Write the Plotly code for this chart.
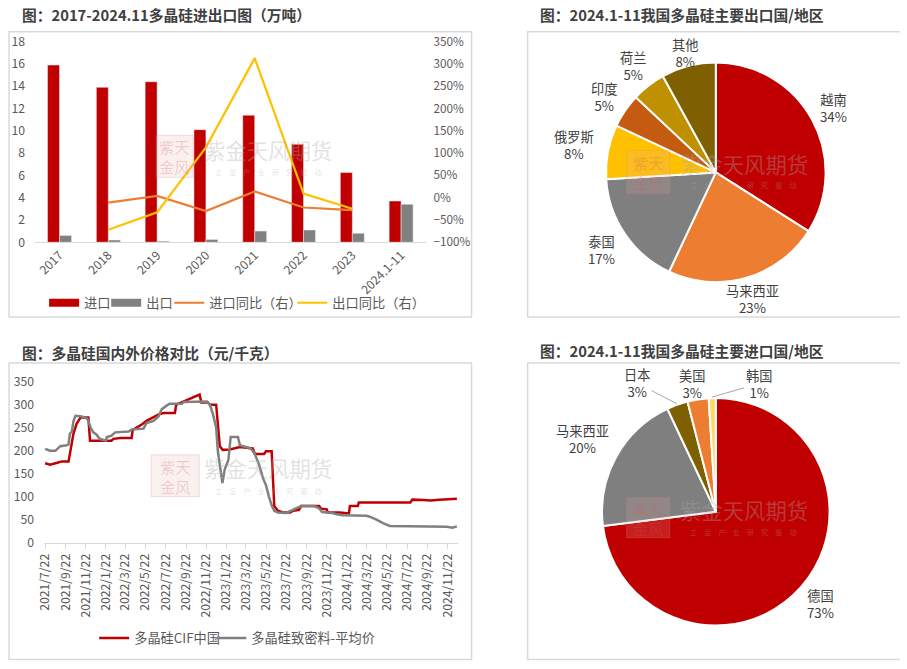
import math
import plotly.graph_objects as go

# The photographed page shows a ~916x685 css-px viewport (body margin 8px) squeezed into 907x669.
# Design coordinates below are target pixels in the final 907x669 picture.
OFF = 8
SX, SY = 0.989, 0.975
AX, AY = 1.0, 1.5
W, H = 900, 669
FS = 1 / 0.982  # font scale compensation


def fx(t):
    return (t - AX) / SX - OFF


def fy(t):
    return (t - AY) / SY - OFF


def px(t):
    return fx(t) / W


def py(t):
    return 1 - fy(t) / H


# ---------------- data ----------------
years = ["2017", "2018", "2019", "2020", "2021", "2022", "2023", "2024.1-11"]
imports = [15.9, 13.9, 14.4, 10.1, 11.4, 8.8, 6.25, 3.7]
exports = [0.6, 0.2, 0.1, 0.25, 1.0, 1.1, 0.8, 3.4]
import_yoy = [None, -11, 4, -30, 14, -22, -28, None]
export_yoy = [None, -72, -33, 113, 313, 9, -25, None]

cif_dates = ["2021-07-22", "2021-08-06", "2021-08-28", "2021-09-11", "2021-10-01", "2021-10-07",
             "2021-10-16", "2021-10-25", "2021-11-03", "2021-11-06", "2021-11-30", "2021-12-05",
             "2022-02-08", "2022-02-14", "2022-03-07", "2022-04-10", "2022-04-13", "2022-05-01",
             "2022-05-13", "2022-05-25", "2022-06-15", "2022-07-04", "2022-07-16", "2022-08-19",
             "2022-08-23", "2022-09-09", "2022-09-24", "2022-11-02", "2022-11-07", "2022-11-27",
             "2022-12-03", "2022-12-22", "2022-12-27", "2023-01-02", "2023-01-11", "2023-02-01",
             "2023-03-04", "2023-04-12", "2023-04-18", "2023-05-16", "2023-05-22", "2023-06-08",
             "2023-06-16", "2023-06-27", "2023-07-12", "2023-08-03", "2023-08-12", "2023-08-30",
             "2023-09-05", "2023-10-30", "2023-11-05", "2023-11-22", "2023-11-25", "2024-01-01",
             "2024-01-28", "2024-01-31", "2024-02-24", "2024-02-27", "2024-08-01", "2024-08-07",
             "2024-09-10", "2024-10-01", "2024-10-28", "2024-12-20"]
cif_values = [173, 170, 174, 177, 177, 205,
              238, 258, 268, 272, 272, 222,
              222, 226, 228, 228, 245, 252,
              258, 265, 272, 280, 282, 282,
              300, 306, 310, 322, 305, 305,
              300, 300, 255, 210, 202, 203,
              208, 205, 193, 193, 199, 199,
              80, 70, 66, 66, 70, 72,
              80, 80, 74, 73, 66, 66,
              64, 80, 80, 88, 88, 94,
              93, 92, 94, 96]

dense_dates = ["2021-07-22", "2021-08-06", "2021-08-22", "2021-08-28", "2021-09-06", "2021-09-26",
               "2021-10-01", "2021-10-05", "2021-10-11", "2021-10-16", "2021-10-22", "2021-11-06",
               "2021-11-22", "2021-11-28", "2021-12-07", "2021-12-15", "2021-12-25", "2022-01-03",
               "2022-01-22", "2022-01-25", "2022-02-08", "2022-02-19", "2022-04-01", "2022-04-10",
               "2022-05-16", "2022-05-25", "2022-06-15", "2022-07-01", "2022-07-10", "2022-07-25",
               "2022-08-03", "2022-09-09", "2022-09-15", "2022-11-24", "2022-12-03", "2022-12-12",
               "2022-12-22", "2022-12-27", "2023-01-02", "2023-01-10", "2023-01-17", "2023-01-28",
               "2023-02-04", "2023-02-26", "2023-03-04", "2023-03-22", "2023-04-06", "2023-04-17",
               "2023-05-01", "2023-05-13", "2023-05-22", "2023-05-31", "2023-06-09", "2023-06-16",
               "2023-06-27", "2023-07-22", "2023-07-31", "2023-08-15", "2023-08-30", "2023-09-05",
               "2023-10-15", "2023-10-30", "2023-11-08", "2023-12-09", "2023-12-22", "2024-01-09",
               "2024-03-22", "2024-03-31", "2024-04-22", "2024-05-10", "2024-05-31", "2024-08-01",
               "2024-10-01", "2024-11-19", "2024-12-07", "2024-12-20"]
dense_values = [204, 200, 200, 205, 210, 212,
                214, 237, 242, 265, 276, 275,
                272, 268, 250, 240, 235, 226,
                222, 230, 233, 240, 242, 246,
                248, 260, 265, 275, 290, 298,
                302, 302, 306, 307, 300, 280,
                250, 200, 165, 130, 160, 180,
                230, 230, 212, 208, 205, 195,
                170, 140, 125, 100, 80, 70,
                66, 65, 68, 73, 78, 80,
                80, 75, 67, 65, 62, 60,
                59, 57, 50, 43, 37, 36,
                36.5, 35, 33, 36]

tick_dates = ["2021-07-22", "2021-09-22", "2021-11-22", "2022-01-22", "2022-03-22", "2022-05-22",
              "2022-07-22", "2022-09-22", "2022-11-22", "2023-01-22", "2023-03-22", "2023-05-22",
              "2023-07-22", "2023-09-22", "2023-11-22", "2024-01-22", "2024-03-22", "2024-05-22",
              "2024-07-22", "2024-09-22", "2024-11-22"]
tick_labels = ["2021/7/22", "2021/9/22", "2021/11/22", "2022/1/22", "2022/3/22", "2022/5/22",
               "2022/7/22", "2022/9/22", "2022/11/22", "2023/1/22", "2023/3/22", "2023/5/22",
               "2023/7/22", "2023/9/22", "2023/11/22", "2024/1/22", "2024/3/22", "2024/5/22",
               "2024/7/22", "2024/9/22", "2024/11/22"]

exp_countries = ["越南", "马来西亚", "泰国", "俄罗斯", "印度", "荷兰", "其他"]
exp_share = [34, 23, 17, 8, 5, 5, 8]
imp_countries = ["德国", "马来西亚", "日本", "美国", "韩国"]
imp_share = [73, 20, 3, 3, 1]

# ---------------- style ----------------
FONT = "Noto Sans CJK SC, Noto Sans, sans-serif"
RED = "#C00000"
GRAY = "#808080"
ORANGE = "#ED7D31"
YELLOW = "#FFC000"
TICK = dict(size=12 * FS, color="#595959", family=FONT)
exp_colors = [RED, ORANGE, "#7F7F7F", "#FFC000", "#C55A11", "#BF9000", "#7F6000"]
imp_colors = [RED, "#7F7F7F", "#7F6000", ORANGE, "#FFD966"]

fig = go.Figure()

# ---- top-left: bars + yoy lines ----
fig.add_trace(go.Bar(x=years, y=imports, marker_color=RED, name="进口", showlegend=False,
                     xaxis="x", yaxis="y", hoverinfo="skip"))
fig.add_trace(go.Bar(x=years, y=exports, marker_color=GRAY, name="出口", showlegend=False,
                     xaxis="x", yaxis="y", hoverinfo="skip"))
fig.add_trace(go.Scatter(x=[None], y=[None], mode="lines", line=dict(color=RED, width=8),
                         name="进口", xaxis="x", yaxis="y", legend="legend"))
fig.add_trace(go.Scatter(x=[None], y=[None], mode="lines", line=dict(color=GRAY, width=8),
                         name="出口", xaxis="x", yaxis="y", legend="legend3"))
fig.add_trace(go.Scatter(x=years, y=import_yoy, mode="lines", line=dict(color=ORANGE, width=2.2),
                         name="进口同比（右）", xaxis="x", yaxis="y2", legend="legend4"))
fig.add_trace(go.Scatter(x=years, y=export_yoy, mode="lines", line=dict(color=YELLOW, width=2.2),
                         name="出口同比（右）", xaxis="x", yaxis="y2", legend="legend5"))

# ---- bottom-left: price lines ----
fig.add_trace(go.Scatter(x=cif_dates, y=cif_values, mode="lines", line=dict(color=RED, width=2.5),
                         name="多晶硅CIF中国", xaxis="x3", yaxis="y3", legend="legend2"))
fig.add_trace(go.Scatter(x=dense_dates, y=dense_values, mode="lines", line=dict(color=GRAY, width=2.5),
                         name="多晶硅致密料-平均价", xaxis="x3", yaxis="y3", legend="legend6"))

# ---- pies ----
PIE1 = dict(cx=715, cy=172, r=110)
PIE2 = dict(cx=715, cy=512, r=114)
for p, vals, labs, cols in [(PIE1, exp_share, exp_countries, exp_colors),
                            (PIE2, imp_share, imp_countries, imp_colors)]:
    fig.add_trace(go.Pie(values=vals, labels=labs, sort=False, direction="clockwise", rotation=0,
                         marker=dict(colors=cols, line=dict(color="white", width=2)),
                         textinfo="none", showlegend=False, hoverinfo="label+value",
                         domain=dict(x=[px(p["cx"] - p["r"]), px(p["cx"] + p["r"])],
                                     y=[py(p["cy"] + p["r"]), py(p["cy"] - p["r"])])))

annotations = []
shapes = []

# pie labels
label_dist1 = [134, 132, 138, 144, 135, 135, 124]
label_dist2 = [140, 152, None, None, None]
# small-slice labels of import pie: label centre offsets (px) from slice edge
small_offsets = {2: (-39, -20, True), 3: (-6, -14, False), 4: (46, -13, True)}


def mid_angles(vals):
    tot = sum(vals)
    out, acc = [], 0
    for v in vals:
        out.append(2 * math.pi * (acc + v / 2) / tot)
        acc += v
    return out


LBL = dict(size=13 * FS, color="#404040", family=FONT)
for i, (lab, v, a) in enumerate(zip(exp_countries, exp_share, mid_angles(exp_share))):
    d = label_dist1[i]
    x = PIE1["cx"] + d * math.sin(a)
    y = PIE1["cy"] - d * math.cos(a)
    annotations.append(dict(x=px(x), y=py(y), xref="paper", yref="paper", showarrow=False,
                            xanchor="center", yanchor="middle",
                            text=f"{lab}<br>{v}%", font=LBL, align="center"))
for i, (lab, v, a) in enumerate(zip(imp_countries, imp_share, mid_angles(imp_share))):
    if label_dist2[i] is not None:
        d = label_dist2[i]
        x = PIE2["cx"] + d * math.sin(a)
        y = PIE2["cy"] - d * math.cos(a)
        annotations.append(dict(x=px(x), y=py(y), xref="paper", yref="paper", showarrow=False,
                                xanchor="center", yanchor="middle",
                                text=f"{lab}<br>{v}%", font=LBL, align="center"))
    else:
        ex = PIE2["cx"] + (PIE2["r"] + 1) * math.sin(a)
        ey = PIE2["cy"] - (PIE2["r"] + 1) * math.cos(a)
        ox, oy, arrow = small_offsets[i]
        if arrow:
            annotations.append(dict(x=px(ex), y=py(ey), xref="paper", yref="paper", showarrow=True,
                                    ax=ox / SX, ay=oy / SY, arrowhead=0, arrowwidth=1,
                                    arrowcolor="#A6A6A6", standoff=0,
                                    text=f"{lab}<br>{v}%", font=LBL, align="center"))
        else:
            annotations.append(dict(x=px(ex + ox), y=py(ey + oy), xref="paper", yref="paper",
                                    xanchor="center", yanchor="middle",
                                    showarrow=False, text=f"{lab}<br>{v}%", font=LBL, align="center"))

# titles
TITLE = dict(size=14.5 * FS, color="#404040", family=FONT)
for x, y, t in [(20, 14, "<b>图：2017-2024.11多晶硅进出口图（万吨）</b>"),
                (537, 14, "<b>图：2024.1-11我国多晶硅主要出口国/地区</b>"),
                (20, 352, "<b>图：多晶硅国内外价格对比（元/千克）</b>"),
                (537, 350, "<b>图：2024.1-11我国多晶硅主要进口国/地区</b>")]:
    annotations.append(dict(x=px(x), y=py(y), xref="paper", yref="paper", xanchor="left",
                            yanchor="middle", showarrow=False, text=t, font=TITLE))

# panel borders
for x0, y0, x1, y1 in [(9, 31, 471, 317), (527, 31, 903, 317), (9, 363, 471, 660), (527, 363, 903, 660)]:
    shapes.append(dict(type="rect", xref="paper", yref="paper", x0=px(x0), x1=px(x1),
                       y0=py(y1), y1=py(y0), line=dict(color="#D9D9D9", width=1.5), layer="below"))

# watermarks
for lx0, ly0, lx1, ly1, tx, ty, sy in [(156, 135, 193, 177, 268, 149, 172),
                                       (626, 150, 669, 193, 743, 163, 185),
                                       (151, 455, 199, 497, 268, 468, 491),
                                       (626, 498, 669, 538, 743, 510, 532)]:
    shapes.append(dict(type="rect", xref="paper", yref="paper", x0=px(lx0), x1=px(lx1),
                       y0=py(ly1), y1=py(ly0), line=dict(color="rgba(215,140,140,0.25)", width=1),
                       fillcolor="rgba(235,170,170,0.18)", layer="above"))
    annotations.append(dict(x=px((lx0 + lx1) / 2), y=py((ly0 + ly1) / 2), xref="paper", yref="paper",
                            showarrow=False, text="紫天<br>金风", xanchor="center", yanchor="middle",
                            font=dict(size=15 * FS, color="rgba(200,90,90,0.25)", family=FONT)))
    annotations.append(dict(x=px(tx), y=py(ty), xref="paper", yref="paper", showarrow=False,
                            xanchor="center", yanchor="middle", text="紫金天风期货",
                            font=dict(size=21 * FS, color="rgba(170,170,170,0.35)", family=FONT)))
    annotations.append(dict(x=px(tx), y=py(sy), xref="paper", yref="paper", showarrow=False,
                            xanchor="center", yanchor="middle",
                            text="立　足　产　业　研　究　驱　动",
                            font=dict(size=7 * FS, color="rgba(170,170,170,0.35)", family=FONT)))

LEG = dict(orientation="h", xanchor="left", yanchor="middle",
           font=dict(size=13 * FS, color="#595959", family=FONT), itemwidth=30,
           bgcolor="rgba(0,0,0,0)")

fig.update_layout(
    width=W, height=H, autosize=False,
    margin=dict(l=0, r=0, t=0, b=0),
    paper_bgcolor="white", plot_bgcolor="white",
    font=dict(family=FONT, color="#595959"),
    barmode="group", bargap=0.51, bargroupgap=0,
    xaxis=dict(domain=[px(35), px(425)], anchor="y", type="category", tickangle=-45,
               showline=True, linecolor="#D9D9D9", linewidth=1, ticks="", tickfont=TICK,
               showgrid=False, fixedrange=True),
    yaxis=dict(domain=[py(242), py(41)], anchor="x", range=[0, 18], dtick=2, showgrid=False,
               zeroline=False, showline=False, tickfont=TICK, ticklabelstandoff=9),
    yaxis2=dict(overlaying="y", anchor="x", side="right", range=[-100, 350], dtick=50,
                ticksuffix="%", showgrid=False, zeroline=False, showline=False,
                tickfont=dict(size=11.5 * FS, color="#595959", family=FONT), ticklabelstandoff=7),
    xaxis3=dict(domain=[px(44), px(457)], anchor="y3", type="date",
                range=["2021-07-19", "2024-12-22"], tickmode="array", tickvals=tick_dates,
                ticktext=tick_labels, tickangle=-90, ticks="outside", ticklen=5, tickcolor="#D9D9D9",
                showline=True, linecolor="#D9D9D9", linewidth=1, showgrid=False, tickfont=TICK),
    yaxis3=dict(domain=[py(543.3), py(381.7)], anchor="x3", range=[0, 350], dtick=50,
                showgrid=False, zeroline=False, showline=False, tickfont=TICK, ticklabelstandoff=9),
    legend=dict(LEG, x=px(44), y=py(303)),
    legend3=dict(LEG, x=px(106), y=py(303)),
    legend4=dict(LEG, x=px(169), y=py(303)),
    legend5=dict(LEG, x=px(292), y=py(303)),
    legend2=dict(LEG, x=px(94), y=py(639)),
    legend6=dict(LEG, x=px(211), y=py(639)),
    annotations=annotations,
    shapes=shapes,
    hovermode=False,
)

fig.write_html("out.html")
